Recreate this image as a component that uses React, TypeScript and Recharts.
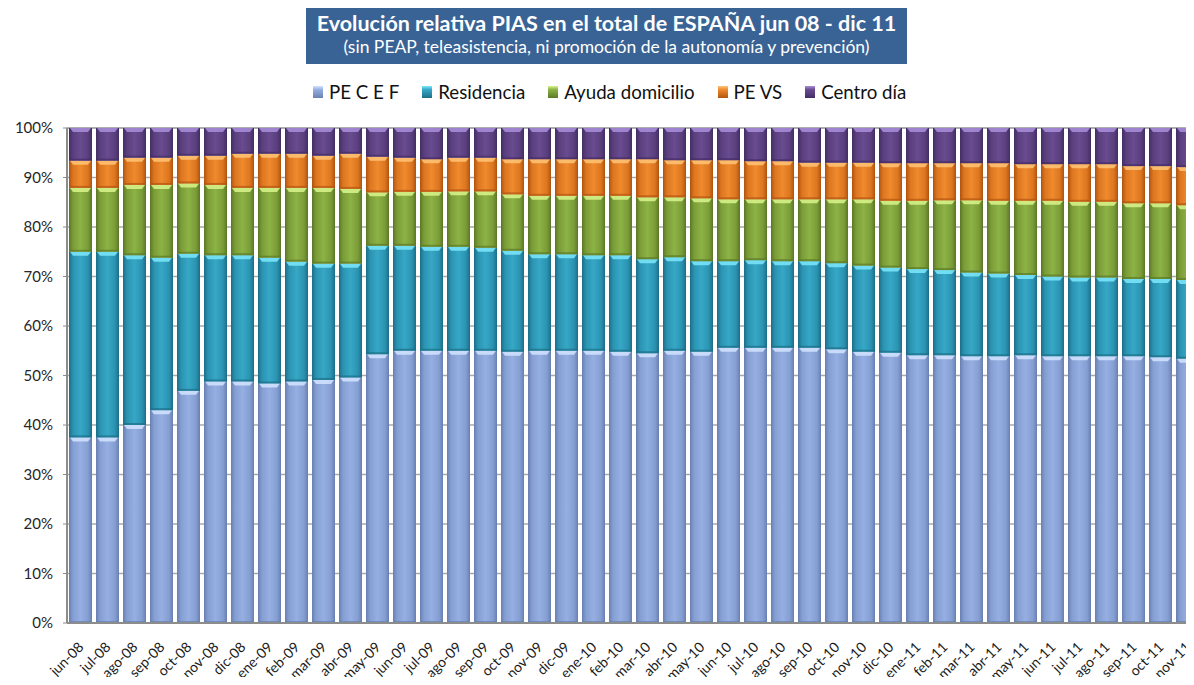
import React from "react";
import {
  BarChart,
  Bar,
  XAxis,
  YAxis,
  CartesianGrid,
} from "recharts";

const months = [
  "jun-08", "jul-08", "ago-08", "sep-08", "oct-08", "nov-08", "dic-08",
  "ene-09", "feb-09", "mar-09", "abr-09", "may-09", "jun-09", "jul-09",
  "ago-09", "sep-09", "oct-09", "nov-09", "dic-09", "ene-10", "feb-10",
  "mar-10", "abr-10", "may-10", "jun-10", "jul-10", "ago-10", "sep-10",
  "oct-10", "nov-10", "dic-10", "ene-11", "feb-11", "mar-11", "abr-11",
  "may-11", "jun-11", "jul-11", "ago-11", "sep-11", "oct-11", "nov-11",
];

// shares in % per month
const peCEF = [
  37.5, 37.5, 40.0, 43.0, 46.9, 48.8, 48.8, 48.4, 48.8, 49.1, 49.6, 54.3,
  55.0, 55.0, 55.0, 55.0, 54.8, 55.0, 55.0, 55.0, 54.8, 54.5, 55.0, 54.8,
  55.6, 55.6, 55.6, 55.6, 55.3, 54.8, 54.6, 54.1, 54.1, 53.9, 53.9, 54.1,
  53.9, 53.9, 53.9, 53.9, 53.7, 53.4,
];
const residencia = [
  37.5, 37.5, 34.3, 30.8, 27.7, 25.5, 25.5, 25.4, 24.2, 23.5, 23.0, 21.9,
  21.2, 21.0, 21.0, 20.8, 20.4, 19.5, 19.5, 19.3, 19.5, 19.0, 18.9, 18.3,
  17.5, 17.7, 17.5, 17.5, 17.4, 17.4, 17.2, 17.4, 17.2, 16.9, 16.7, 16.2,
  16.1, 15.9, 15.9, 15.6, 15.8, 15.9,
];
const ayudaDomicilio = [
  12.9, 12.9, 14.2, 14.7, 14.2, 14.2, 13.6, 14.1, 14.9, 15.3, 15.1, 10.8,
  10.9, 11.1, 11.2, 11.4, 11.4, 11.8, 11.8, 12.0, 12.0, 12.5, 12.1, 12.7,
  12.5, 12.3, 12.5, 12.5, 12.9, 13.4, 13.5, 13.8, 14.1, 14.6, 14.7, 15.0,
  15.3, 15.3, 15.3, 15.3, 15.3, 15.1,
];
const peVS = [
  5.5, 5.5, 5.5, 5.5, 5.6, 5.9, 6.9, 6.9, 6.9, 6.5, 7.1, 7.2,
  6.9, 6.6, 6.8, 6.8, 7.1, 7.4, 7.4, 7.4, 7.4, 7.7, 7.5, 7.7,
  7.9, 7.7, 7.7, 7.4, 7.4, 7.4, 7.6, 7.6, 7.5, 7.5, 7.6, 7.4,
  7.4, 7.6, 7.6, 7.5, 7.5, 7.7,
];
const centroDia = [
  6.6, 6.6, 6.0, 6.0, 5.6, 5.6, 5.2, 5.2, 5.2, 5.6, 5.2, 5.8,
  6.0, 6.3, 6.0, 6.0, 6.3, 6.3, 6.3, 6.3, 6.3, 6.3, 6.5, 6.5,
  6.5, 6.7, 6.7, 7.0, 7.0, 7.0, 7.1, 7.1, 7.1, 7.1, 7.1, 7.3,
  7.3, 7.3, 7.3, 7.7, 7.7, 7.9,
];

const yTicks = [0, 10, 20, 30, 40, 50, 60, 70, 80, 90, 100];

const series = [
  { key: "peCEF", name: "PE C E F", values: peCEF, dark: "#6A80B2", mid: "#859FD2", light: "#95AFE2", hi: "#D4E4FF" },
  { key: "residencia", name: "Residencia", values: residencia, dark: "#1C6F88", mid: "#2B93B2", light: "#37A7C6", hi: "#7DE8FC" },
  { key: "ayuda", name: "Ayuda domicilio", values: ayudaDomicilio, dark: "#5C7A26", mid: "#7B9C37", light: "#8CB346", hi: "#D9F68C" },
  { key: "peVS", name: "PE VS", values: peVS, dark: "#B3550F", mid: "#DC7620", light: "#F08A2E", hi: "#FFC477" },
  { key: "centroDia", name: "Centro día", values: centroDia, dark: "#442E66", mid: "#5A3F7E", light: "#694B90", hi: "#A98FDA" },
];

const data = months.map((m, i) => {
  const row: Record<string, string | number> = { month: m };
  series.forEach((s) => {
    row[s.key] = s.values[i];
  });
  return row;
});

const FONT = "Lato, 'Open Sans', sans-serif";

function BevelBar(props: any) {
  const { x, y, width, height, s } = props;
  if (!height || height <= 0) return null;
  const b = Math.min(4, height / 3);
  return (
    <g>
      <rect x={x} y={y} width={width} height={height} fill={`url(#grad-${s.key})`} />
      <path
        d={`M${x + 1},${y} L${x + width - 1},${y} L${x + width - 4},${y + b} L${x + 4},${y + b} Z`}
        fill={s.hi}
        opacity={0.85}
      />
      <rect x={x} y={y + height - 2} width={width} height={2} fill={s.dark} opacity={0.7} />
      <rect x={x} y={y} width={1} height={height} fill={s.dark} opacity={0.6} />
      <rect x={x + width - 1} y={y} width={1} height={height} fill={s.dark} opacity={0.6} />
    </g>
  );
}

function MonthTick(props: any) {
  const { x, y, payload } = props;
  const ax = x + 4;
  const ay = y + 25;
  return (
    <text
      x={ax}
      y={ay}
      transform={`rotate(-45 ${ax} ${ay})`}
      textAnchor="end"
      fontSize={14}
      fontFamily={FONT}
      fill="#1a1a1a"
    >
      {payload.value}
    </text>
  );
}

export default function App() {
  return (
    <div
      style={{
        position: "relative",
        width: 1194,
        height: 685,
        margin: -8,
        overflow: "hidden",
        background: "#fff",
        fontFamily: FONT,
      }}
    >
      <div
        style={{
          position: "absolute",
          left: 306,
          top: 7,
          width: 601,
          height: 57,
          background: "#3A6395",
          color: "#fff",
          textAlign: "center",
          whiteSpace: "nowrap",
        }}
      >
        <div style={{ fontSize: 21.5, fontWeight: 700, lineHeight: "26px", marginTop: 3 }}>
          Evolución relativa PIAS en el total de ESPAÑA jun 08 - dic 11
        </div>
        <div style={{ fontSize: 17.5, lineHeight: "22px", marginTop: 0 }}>
          (sin PEAP, teleasistencia, ni promoción de la autonomía y prevención)
        </div>
      </div>

      <div
        style={{
          position: "absolute",
          left: 313,
          top: 81,
          display: "flex",
          alignItems: "center",
          gap: 23,
          fontSize: 18.7,
          color: "#111",
          whiteSpace: "nowrap",
        }}
      >
        {series.map((s) => (
          <div key={s.key} style={{ display: "flex", alignItems: "center" }}>
            <span
              style={{
                display: "inline-block",
                width: 10,
                height: 12,
                marginRight: 6,
                background: `linear-gradient(to bottom, ${s.hi} 0, ${s.light} 30%, ${s.dark} 100%)`,
              }}
            />
            <span>{s.name}</span>
          </div>
        ))}
      </div>

      <div style={{ position: "absolute", left: 0, top: 0 }}>
        <BarChart
          width={1215}
          height={685}
          data={data}
          margin={{ top: 128, right: 14, bottom: 0, left: 0 }}
          barCategoryGap={2}
        >
          <defs>
            {series.map((s) => (
              <linearGradient key={s.key} id={`grad-${s.key}`} x1="0" y1="0" x2="1" y2="0">
                <stop offset="0%" stopColor={s.dark} />
                <stop offset="18%" stopColor={s.mid} />
                <stop offset="50%" stopColor={s.light} />
                <stop offset="82%" stopColor={s.mid} />
                <stop offset="100%" stopColor={s.dark} />
              </linearGradient>
            ))}
          </defs>
          <CartesianGrid vertical={false} stroke="#A8A8A8" strokeWidth={1.5} />
          <XAxis
            dataKey="month"
            interval={0}
            height={62}
            tickSize={0}
            tickMargin={0}
            axisLine={{ stroke: "#8C8C8C", strokeWidth: 2 }}
            tick={<MonthTick />}
          />
          <YAxis
            width={67}
            domain={[0, 100]}
            ticks={yTicks}
            tickFormatter={(v: number) => `${v}%`}
            tickSize={4}
            tickMargin={10}
            axisLine={{ stroke: "#8C8C8C", strokeWidth: 2 }}
            tickLine={{ stroke: "#8C8C8C" }}
            tick={{ fontSize: 15, fill: "#262626", fontFamily: FONT }}
          />
          {series.map((s) => (
            <Bar
              key={s.key}
              dataKey={s.key}
              name={s.name}
              stackId="pias"
              fill={s.light}
              isAnimationActive={false}
              shape={(p: any) => <BevelBar {...p} s={s} />}
            />
          ))}
        </BarChart>
      </div>
    </div>
  );
}
